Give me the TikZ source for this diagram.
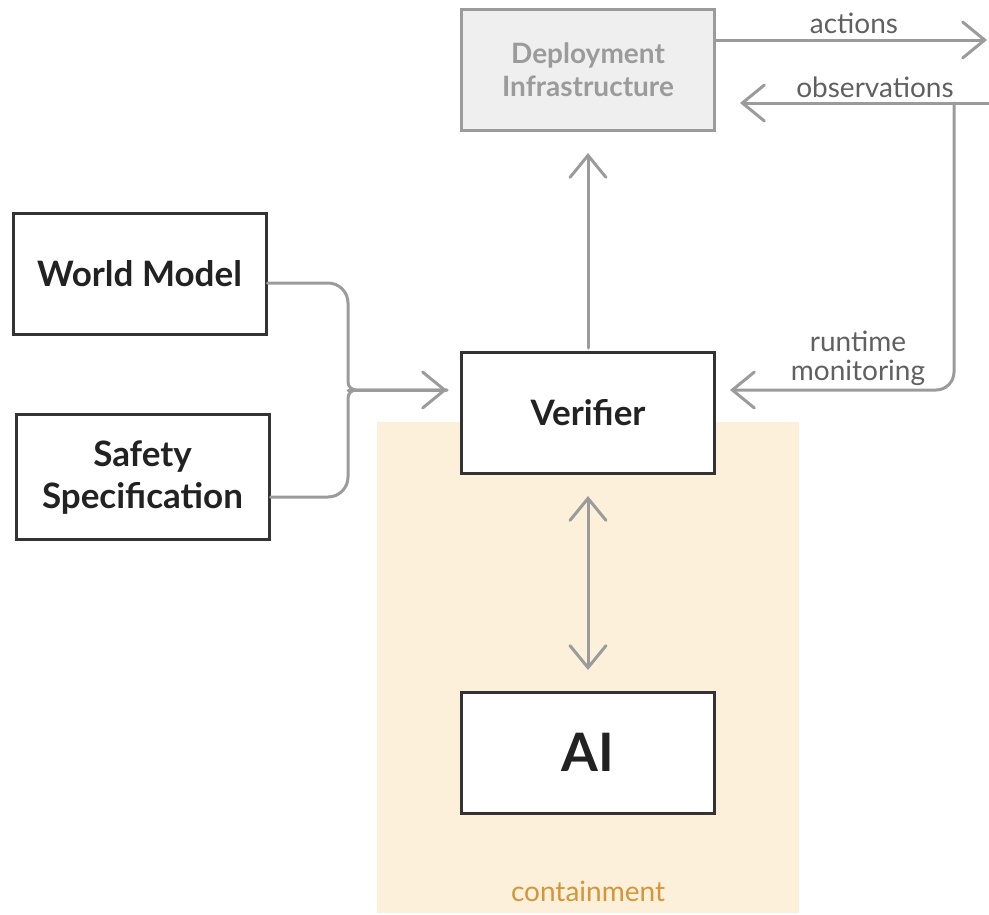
\documentclass[tikz,border=0pt]{standalone}
\usepackage{fontspec}
\setmainfont{Lato}
\usetikzlibrary{arrows.meta}
\definecolor{boxline}{HTML}{333333}
\definecolor{conn}{HTML}{9B9B9B}
\definecolor{lbl}{HTML}{606060}
\definecolor{txt}{HTML}{222222}
\definecolor{contfill}{HTML}{FCF0DA}
\definecolor{conttxt}{HTML}{D4953B}
\definecolor{depfill}{HTML}{EFEFEF}
\tikzset{
  box/.style={draw=boxline, line width=3pt, fill=white, minimum width=253pt, minimum height=121pt,
    inner sep=0pt, align=center, text=txt, font=\fontsize{35}{42}\selectfont\bfseries},
  depbox/.style={box, draw=conn, fill=depfill, text=conn, font=\fontsize{28}{33}\selectfont\bfseries},
  conline/.style={draw=conn, line width=3pt, line cap=round, line join=round},
  tip/.style={-{Straight Barb[length=22pt,width=36pt,line cap=round]}},
  lbltext/.style={text=lbl, font=\fontsize{28}{29}\selectfont, align=center, inner sep=0pt},
}
\begin{document}
\begin{tikzpicture}[x=1pt,y=-1pt]
\useasboundingbox (0,0) rectangle (989,914);
% containment region
\fill[contfill] (377,422) rectangle (799,913);
\node[text=conttxt, font=\fontsize{28}{30}\selectfont, inner sep=0pt] (contlbl) at (588,891) {containment};
% boxes
\node[depbox] (dep) at (588,70) {Deployment\\Infrastructure};
\node[box] (wm) at (139.5,274) {World Model};
\node[box, minimum height=125pt, text depth=4pt] (ss) at (142.5,477) {Safety\\Specification};
\node[box] (ver) at (588,412.5) {Verifier};
\node[box, font=\fontsize{53}{60}\selectfont\bfseries] (ai) at (588,752.5) {AI};
% coordinates
\coordinate (actend) at (987,40);
\coordinate (obsstart) at (989,103);
\coordinate (obsend) at (740,103);
\coordinate (rmtop) at (954,103);
\coordinate (rmtip) at (730,390);
\coordinate (join) at (348,390);
\coordinate (vertip) at (447,390);
\coordinate (deptip) at (588,153);
\coordinate (vertop) at (588,348);
\coordinate (dtop) at (588,496);
\coordinate (dbot) at (588,670);
% connectors
\draw[conline, tip] (dep.east |- 0,40) -- (actend);
\draw[conline, tip] (obsstart) -- (obsend);
\draw[conline, tip, rounded corners=18pt] (rmtop) -- (rmtop |- rmtip) -- (rmtip);
\draw[conline, tip] (vertop) -- (deptip);
\draw[conline, {Straight Barb[length=22pt,width=36pt,line cap=round]}-{Straight Barb[length=22pt,width=36pt,line cap=round]}] (dtop) -- (dbot);
\draw[conline, rounded corners=20pt] (wm.east |- 0,283) -- (join |- 0,283) [rounded corners=8pt] -- (join) -- (vertip);
\draw[conline, rounded corners=20pt] (ss.east |- 0,497) -- (join |- 0,497) [rounded corners=8pt] -- (join) -- (vertip);
\draw[conline, tip] (join) -- (vertip);
% labels
\node[lbltext] (actlbl) at (854,23) {actions};
\node[lbltext] (obslbl) at (875,87) {observations};
\node[lbltext] (rmlbl) at (858,358) {runtime\\monitoring};
\end{tikzpicture}
\end{document}
